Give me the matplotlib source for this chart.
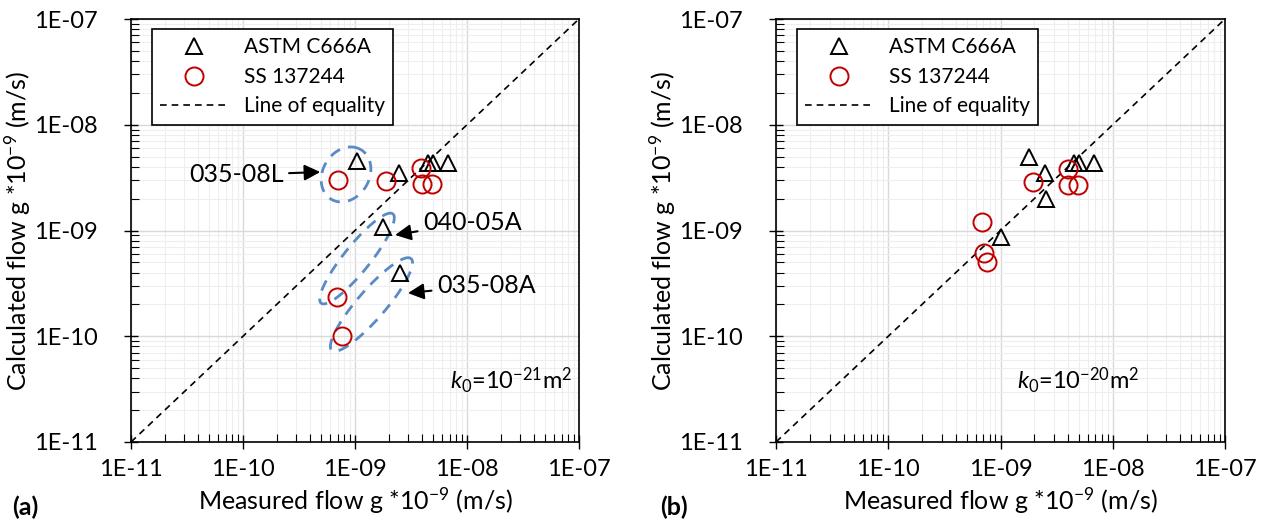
import numpy as np
import matplotlib.pyplot as plt
from matplotlib.ticker import LogLocator, FixedLocator, NullFormatter

plt.rcParams['font.family'] = ['Lato', 'DejaVu Sans']
plt.rcParams['mathtext.fontset'] = 'custom'
plt.rcParams['mathtext.rm'] = 'Lato'
plt.rcParams['mathtext.it'] = 'Lato:italic'

# k0 = 1e-21 m2 : measured vs calculated flow
astm_meas_a = [1.04e-9, 2.47e-9, 4.5e-9, 5.0e-9, 6.8e-9, 1.78e-9, 2.52e-9]
astm_calc_a = [4.5e-9, 3.5e-9, 4.35e-9, 4.35e-9, 4.35e-9, 1.08e-9, 3.96e-10]
ss_meas_a = [7.05e-10, 1.89e-9, 3.88e-9, 3.95e-9, 4.86e-9, 6.9e-10, 7.65e-10]
ss_calc_a = [3.0e-9, 2.94e-9, 3.9e-9, 2.75e-9, 2.75e-9, 2.35e-10, 1.0e-10]

# k0 = 1e-20 m2
astm_meas_b = [1.78e-9, 2.5e-9, 4.5e-9, 5.0e-9, 6.8e-9, 2.52e-9, 1.0e-9]
astm_calc_b = [4.95e-9, 3.5e-9, 4.35e-9, 4.35e-9, 4.35e-9, 1.99e-9, 8.7e-10]
ss_meas_b = [1.93e-9, 3.96e-9, 4.0e-9, 4.86e-9, 6.9e-10, 7.2e-10, 7.65e-10]
ss_calc_b = [2.88e-9, 3.82e-9, 2.69e-9, 2.69e-9, 1.2e-9, 6.1e-10, 5.0e-10]

ticks = [1e-11, 1e-10, 1e-9, 1e-8, 1e-7]
tick_labels = ['1E-11', '1E-10', '1E-09', '1E-08', '1E-07']

# outlier groups (log10 centre x, log10 centre y, semi axes in decades, angle)
groups = [(-9.08, -8.47, 0.27, 0.21, 65),
          (-8.982, -9.265, 0.53, 0.12, 53),
          (-8.853, -9.70, 0.56, 0.13, 51)]
# label, arrow tip, text position
group_labels = [('035-08L', (4.9e-10, 3.57e-9), (2.3e-10, 3.35e-9), 'right'),
                ('040-05A', (2.28e-9, 9.06e-10), (4.05e-9, 1.2e-9), 'left'),
                ('035-08A', (2.97e-9, 2.56e-10), (5.4e-9, 3.05e-10), 'left')]

blue = '#5b8ac6'


def setup_axes(ax):
    ax.set_xscale('log')
    ax.set_yscale('log')
    ax.set_xlim(1e-11, 1e-7)
    ax.set_ylim(1e-11, 1e-7)
    for axis in (ax.xaxis, ax.yaxis):
        axis.set_major_locator(FixedLocator(ticks))
        axis.set_minor_locator(LogLocator(base=10, subs=np.arange(2, 10)))
        axis.set_minor_formatter(NullFormatter())
    ax.set_xticklabels(tick_labels)
    ax.set_yticklabels(tick_labels)
    ax.tick_params(which='major', direction='inout', length=10, width=1,
                   labelsize=17)
    ax.tick_params(axis='x', which='major', pad=7)
    ax.tick_params(axis='y', which='major', pad=19)
    ax.tick_params(which='minor', direction='in', length=6, width=0.8)
    ax.grid(which='major', color='#d9d9d9', lw=1)
    ax.grid(which='minor', color='#eeeeee', lw=0.8)
    ax.set_axisbelow(True)
    for s in ax.spines.values():
        s.set_linewidth(1.2)
    ax.set_xlabel('Measured flow g *10$^{-9}$ (m/s)', fontsize=18, labelpad=4)
    ax.set_ylabel('Calculated flow g *10$^{-9}$ (m/s)', fontsize=18, labelpad=1)


def draw_panel(ax, am, ac, sm, sc):
    setup_axes(ax)
    ax.plot(ax.get_xlim(), ax.get_ylim(), '--', color='k', lw=1.2,
            dashes=(4, 3), label='Line of equality', zorder=2)
    ax.plot(am, ac, '^', ms=12, mfc='none', mec='k', mew=1.4, ls='none',
            label='ASTM C666A', zorder=3)
    ax.plot(sm, sc, 'o', ms=13, mfc='none', mec='#c00000', mew=1.4, ls='none',
            label='SS 137244', zorder=3)
    handles, labels = ax.get_legend_handles_labels()
    order = [1, 2, 0]
    leg = ax.legend([handles[i] for i in order], [labels[i] for i in order],
                    loc='upper left', bbox_to_anchor=(0.047, 0.976),
                    borderaxespad=0, fancybox=False, edgecolor='k',
                    framealpha=1, fontsize=15, handlelength=3.2,
                    handletextpad=0.8, labelspacing=0.45, borderpad=0.4)
    leg.get_frame().set_linewidth(1.2)


fig = plt.figure(figsize=(12.66, 5.28), dpi=100)
ax1 = fig.add_axes([131 / 1266, 1 - 442 / 528, 448 / 1266, 423 / 528])
ax2 = fig.add_axes([776 / 1266, 1 - 442 / 528, 449 / 1266, 423 / 528])

draw_panel(ax1, astm_meas_a, astm_calc_a, ss_meas_a, ss_calc_a)
draw_panel(ax2, astm_meas_b, astm_calc_b, ss_meas_b, ss_calc_b)

# dashed ellipses around outlier pairs, drawn in log space
t = np.linspace(0, 2 * np.pi, 200)
for cx, cy, a, b, ang in groups:
    th = np.radians(ang)
    ex = cx + a * np.cos(t) * np.cos(th) - b * np.sin(t) * np.sin(th)
    ey = cy + a * np.cos(t) * np.sin(th) + b * np.sin(t) * np.cos(th)
    ax1.plot(10 ** ex, 10 ** ey, color=blue, lw=2, dashes=(4, 3), zorder=2)

for text, tip, pos, ha in group_labels:
    ax1.annotate(text, xy=tip, xytext=pos, fontsize=18, ha=ha, va='center',
                 arrowprops=dict(arrowstyle='-|>', color='k', lw=1.5,
                                 mutation_scale=24, shrinkA=2, shrinkB=0))

ax1.text(0.985, 0.145, r'$\mathit{k}_0$=10$^{-21}$m$^2$', transform=ax1.transAxes,
         fontsize=17, ha='right', va='center')
ax2.text(0.81, 0.145, r'$\mathit{k}_0$=10$^{-20}$m$^2$', transform=ax2.transAxes,
         fontsize=17, ha='right', va='center')

fig.text(12 / 1266, 1 - 507 / 528, '(a)', fontsize=18, fontweight='bold', va='center')
fig.text(660 / 1266, 1 - 507 / 528, '(b)', fontsize=18, fontweight='bold', va='center')

fig.savefig('out.png', dpi=100)
